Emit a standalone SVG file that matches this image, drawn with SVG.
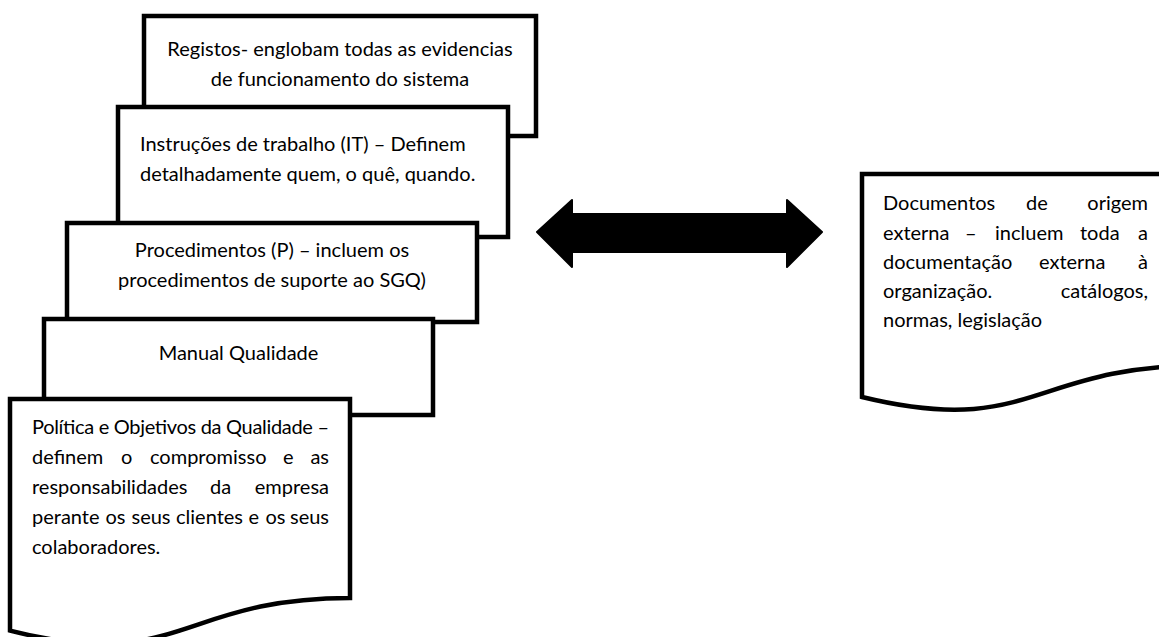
<svg xmlns="http://www.w3.org/2000/svg" width="1159" height="637" viewBox="0 0 1159 637">
<style>
.box{fill:#fff;stroke:#000;stroke-width:4.5;stroke-linejoin:miter}
.t{font-family:Lato,"Liberation Sans",sans-serif;font-size:20px;fill:#000}
.c{text-anchor:middle}
.e{text-anchor:end}
</style>
<rect width="1159" height="637" fill="#fff"/>
<g id="registos">
<rect class="box" x="144" y="16" width="392" height="120"/>
<text class="t c" x="340" y="56">Registos- englobam todas as evidencias</text>
<text class="t c" x="340" y="86">de funcionamento do sistema</text>
</g>
<g id="instrucoes">
<rect class="box" x="118" y="107" width="390" height="130"/>
<text class="t" x="140" y="151">Instruções de trabalho (IT) – Definem</text>
<text class="t" x="140" y="181">detalhadamente quem, o quê, quando.</text>
</g>
<g id="procedimentos">
<rect class="box" x="67" y="223" width="410" height="99"/>
<text class="t c" x="272" y="257">Procedimentos (P) – incluem os</text>
<text class="t c" x="272" y="287">procedimentos de suporte ao SGQ)</text>
</g>
<g id="manual">
<rect class="box" x="44" y="319" width="389" height="96"/>
<text class="t c" x="238.5" y="360">Manual Qualidade</text>
</g>
<g id="politica">
<path class="box" d="M10,399 H350 V598 C180,598 180,673.7 10,630.6 Z"/>
<text class="t" x="32" y="434" textLength="297" lengthAdjust="spacing">Política e Objetivos da Qualidade –</text>
<text class="t" x="32" y="464">definem</text>
<text class="t" x="121" y="464">o</text>
<text class="t" x="150" y="464">compromisso</text>
<text class="t" x="283" y="464">e</text>
<text class="t e" x="329" y="464">as</text>
<text class="t" x="32" y="494">responsabilidades</text>
<text class="t" x="210" y="494">da</text>
<text class="t e" x="329" y="494">empresa</text>
<text class="t" x="32" y="524">perante</text>
<text class="t" x="105.5" y="524">os</text>
<text class="t" x="131.5" y="524">seus</text>
<text class="t" x="176" y="524">clientes</text>
<text class="t" x="248.5" y="524">e</text>
<text class="t" x="265.5" y="524">os</text>
<text class="t e" x="329" y="524">seus</text>
<text class="t" x="32" y="554">colaboradores.</text>
</g>
<g id="externos">
<path class="box" d="M862,174 H1202 V365.5 C1032,365.5 1032,438.5 862,397 Z"/>
<text class="t" x="883" y="210">Documentos</text>
<text class="t" x="1026" y="210">de</text>
<text class="t e" x="1148" y="210">origem</text>
<text class="t" x="883" y="240">externa</text>
<text class="t" x="965" y="240">–</text>
<text class="t" x="995" y="240">incluem</text>
<text class="t" x="1080" y="240">toda</text>
<text class="t e" x="1148" y="240">a</text>
<text class="t" x="883" y="269">documentação</text>
<text class="t" x="1039" y="269">externa</text>
<text class="t e" x="1148" y="269">à</text>
<text class="t" x="883" y="298">organização.</text>
<text class="t e" x="1148" y="298">catálogos,</text>
<text class="t" x="883" y="327">normas, legislação</text>
</g>
<g id="connectors">
<polygon points="537,232 572,200 572,214 787,214 787,200 822,232 787,267 787,252 572,252 572,267" fill="#000" stroke="#000" stroke-width="2" stroke-linejoin="round"/>
</g>
</svg>
